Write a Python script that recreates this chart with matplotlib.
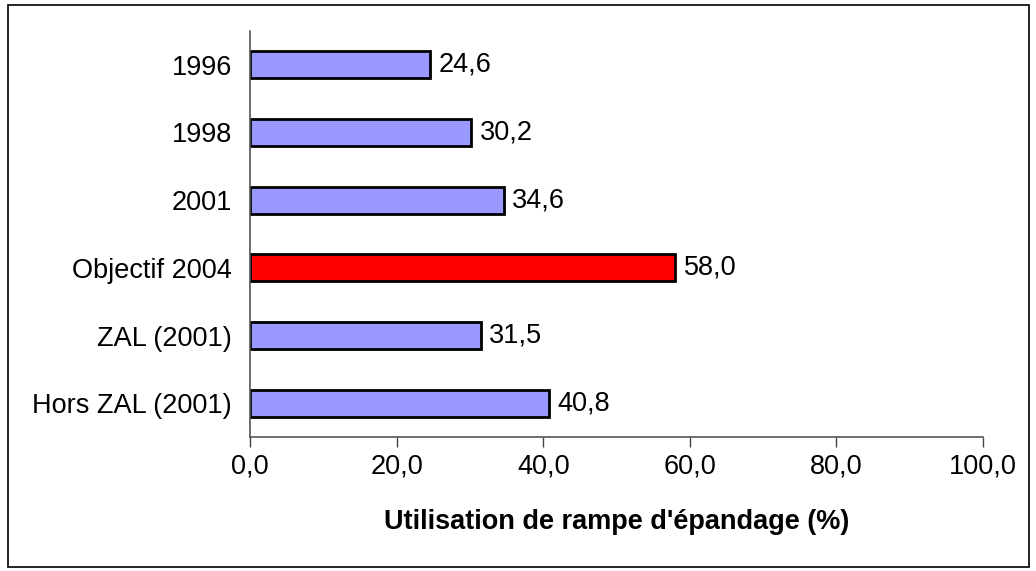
import matplotlib.pyplot as plt
from matplotlib.patches import Rectangle

# Données
categories = ['1996', '1998', '2001', 'Objectif 2004', 'ZAL (2001)', 'Hors ZAL (2001)']
valeurs = [24.6, 30.2, 34.6, 58.0, 31.5, 40.8]
couleurs = ['#9999FF', '#9999FF', '#9999FF', '#FF0000', '#9999FF', '#9999FF']
ticks_x = [0, 20, 40, 60, 80, 100]

plt.rcParams['font.family'] = ['Liberation Sans', 'DejaVu Sans']
taille = 19.5

fig = plt.figure(figsize=(10.36, 5.71), dpi=100)
ax = fig.add_axes([250 / 1036, 1 - 437 / 571, (983 - 250) / 1036, (437 - 31) / 571])

pos = list(range(len(categories)))
ax.barh(pos, valeurs, height=0.4, color=couleurs, edgecolor='black', linewidth=2)
for p, v in zip(pos, valeurs):
    ax.annotate(f'{v:.1f}'.replace('.', ','), (v, p), xytext=(6, 0),
                textcoords='offset points', va='center', ha='left', fontsize=taille)

ax.set_xlim(0, 100)
ax.set_ylim(len(categories) - 0.5, -0.5)
ax.set_yticks(pos)
ax.set_yticklabels(categories, fontsize=taille)
ax.set_xticks(ticks_x)
ax.set_xticklabels([f'{t:.1f}'.replace('.', ',') for t in ticks_x], fontsize=taille)
ax.tick_params(axis='y', length=0, pad=13)
ax.tick_params(axis='x', direction='out', length=7, width=1, color='#444444', pad=5)

for s in ['top', 'right']:
    ax.spines[s].set_visible(False)
for s in ['left', 'bottom']:
    ax.spines[s].set_color('#555555')
    ax.spines[s].set_linewidth(1.2)

ax.set_xlabel("Utilisation de rampe d'épandage (%)", fontsize=taille, fontweight='bold', labelpad=21)

# cadre autour de la figure
fig.patches.append(Rectangle((8 / 1036, 4 / 571), 1021 / 1036, 562 / 571,
                             transform=fig.transFigure, fill=False,
                             edgecolor='black', linewidth=1.2))

fig.savefig('out.png', dpi=100)
